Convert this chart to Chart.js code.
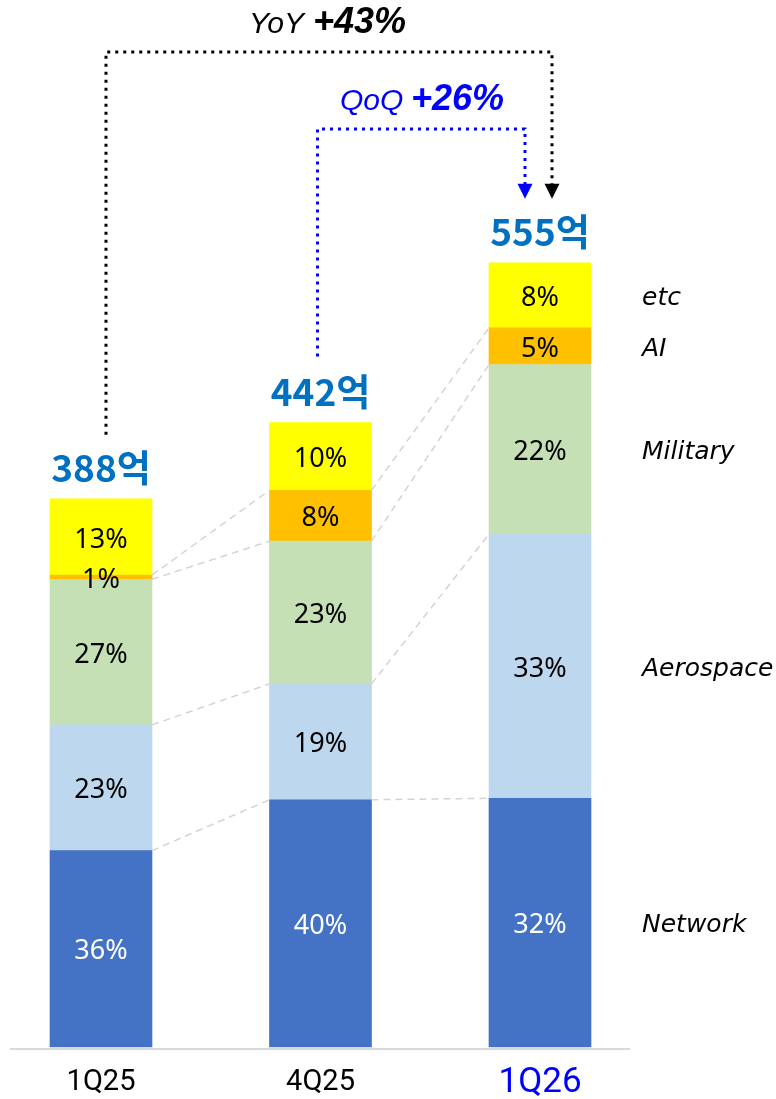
<!DOCTYPE html>
<html>
<head>
<meta charset="utf-8">
<script src="https://cdn.jsdelivr.net/npm/chart.js@4"></script>
<style>
  html, body { margin: 0; padding: 0; background: #fff; }
  canvas { display: block; }
</style>
</head>
<body>
<canvas id="chart-mix" width="776" height="1099"></canvas>
<script>
// 분기별 매출 구성 (단위: 억)
const quarters = ['1Q25', '4Q25', '1Q26']
const totals = [388, 442, 555]

const network = [139, 175, 176]
const aerospace = [89, 82, 187]
const military = [103, 101, 120]
const ai = [3, 36, 26]
const etc = [54, 48, 46]

const pctNetwork = ['36%', '40%', '32%']
const pctAerospace = ['23%', '19%', '33%']
const pctMilitary = ['27%', '23%', '22%']
const pctAi = ['1%', '8%', '5%']
const pctEtc = ['13%', '10%', '8%']

const yoyText = ['YoY', '+43%']
const qoqText = ['QoQ', '+26%']

const series = [
  { name: 'Network', data: network, pct: pctNetwork, color: '#4472c4', txt: '#ffffff' },
  { name: 'Aerospace', data: aerospace, pct: pctAerospace, color: '#bdd7ee', txt: '#000000' },
  { name: 'Military', data: military, pct: pctMilitary, color: '#c5e0b4', txt: '#000000' },
  { name: 'AI', data: ai, pct: pctAi, color: '#ffc000', txt: '#000000' },
  { name: 'etc', data: etc, pct: pctEtc, color: '#ffff00', txt: '#000000' }
]

const dotted = (ctx, color, pts) => {
  ctx.save()
  ctx.strokeStyle = color
  ctx.lineWidth = 3
  ctx.setLineDash([3, 5])
  ctx.beginPath()
  ctx.moveTo(pts[0][0], pts[0][1])
  pts.slice(1).forEach((p) => ctx.lineTo(p[0], p[1]))
  ctx.stroke()
  ctx.restore()
}

const arrowHead = (ctx, color, x, y) => {
  ctx.save()
  ctx.fillStyle = color
  ctx.beginPath()
  ctx.moveTo(x - 7.5, y - 15)
  ctx.lineTo(x + 7.5, y - 15)
  ctx.lineTo(x, y)
  ctx.closePath()
  ctx.fill()
  ctx.restore()
}

const decoPlugin = {
  id: 'deco',
  afterDatasetsDraw(chart) {
    const ctx = chart.ctx
    const xs = chart.scales.x
    const metas = series.map((s, i) => chart.getDatasetMeta(i))

    // 축 라인
    ctx.save()
    ctx.strokeStyle = '#d9d9d9'
    ctx.lineWidth = 2
    ctx.beginPath()
    ctx.moveTo(10, chart.chartArea.bottom + 2)
    ctx.lineTo(630, chart.chartArea.bottom + 2)
    ctx.stroke()
    ctx.restore()

    // 구간 연결 점선
    ctx.save()
    ctx.strokeStyle = '#d4d4d4'
    ctx.lineWidth = 1.5
    ctx.setLineDash([7, 5])
    for (let d = 0; d < 4; d++) {
      const els = metas[d].data
      for (let i = 0; i < els.length - 1; i++) {
        const a = els[i], b = els[i + 1]
        ctx.beginPath()
        ctx.moveTo(a.x + a.width / 2, a.y)
        ctx.lineTo(b.x - b.width / 2, b.y)
        ctx.stroke()
      }
    }
    ctx.restore()

    // 퍼센트 라벨
    ctx.save()
    ctx.textAlign = 'center'
    ctx.textBaseline = 'middle'
    ctx.font = '27px "Noto Sans", sans-serif'
    series.forEach((s, d) => {
      metas[d].data.forEach((el, i) => {
        ctx.fillStyle = s.txt
        ctx.fillText(s.pct[i], el.x, (el.y + el.base) / 2 + 3)
      })
    })
    ctx.restore()

    // 합계 라벨
    const topEls = metas[series.length - 1].data
    ctx.save()
    ctx.textAlign = 'center'
    ctx.textBaseline = 'middle'
    ctx.font = 'bold 37px "Noto Sans CJK KR", sans-serif'
    ctx.fillStyle = '#0070c0'
    topEls.forEach((el, i) => {
      ctx.fillText(totals[i] + '억', el.x, el.y - 31)
    })
    ctx.restore()

    // 오른쪽 범례
    const last = quarters.length - 1
    ctx.save()
    ctx.textAlign = 'left'
    ctx.textBaseline = 'middle'
    ctx.font = 'italic 25px "DejaVu Sans", sans-serif'
    ctx.fillStyle = '#000'
    series.forEach((s, d) => {
      const el = metas[d].data[last]
      ctx.fillText(s.name, 642, (el.y + el.base) / 2 + 3)
    })
    ctx.restore()

    // x축 라벨
    ctx.save()
    ctx.textAlign = 'center'
    ctx.textBaseline = 'middle'
    quarters.forEach((q, i) => {
      const x = xs.getPixelForValue(i)
      if (i === last) {
        ctx.font = '35px Roboto, sans-serif'
        ctx.fillStyle = '#0000ff'
      } else {
        ctx.font = '29px Roboto, sans-serif'
        ctx.fillStyle = '#000'
      }
      ctx.fillText(q, x, 1083)
    })
    ctx.restore()

    // YoY / QoQ 화살표
    const t0 = topEls[0], t1 = topEls[1], t2 = topEls[last]
    const yoyY = 52, qoqY = 129
    dotted(ctx, '#000', [[t0.x + 5, t0.y - 64], [t0.x + 5, yoyY], [t2.x + 12, yoyY], [t2.x + 12, t2.y - 78]])
    arrowHead(ctx, '#000', t2.x + 12, t2.y - 64)
    dotted(ctx, '#0000ff', [[t1.x - 3, t1.y - 66], [t1.x - 3, qoqY], [t2.x - 15, qoqY], [t2.x - 15, t2.y - 78]])
    arrowHead(ctx, '#0000ff', t2.x - 15, t2.y - 64)

    ctx.save()
    ctx.textBaseline = 'alphabetic'
    ctx.textAlign = 'left'
    ctx.fillStyle = '#000'
    ctx.font = 'italic 30px "Liberation Sans", sans-serif'
    ctx.fillText(yoyText[0], 249, 33)
    ctx.font = 'italic bold 36px "Liberation Sans", sans-serif'
    ctx.fillText(yoyText[1], 313, 33)
    ctx.fillStyle = '#0000ff'
    ctx.font = 'italic 30px "Liberation Sans", sans-serif'
    ctx.fillText(qoqText[0], 340, 110)
    ctx.font = 'italic bold 36px "Liberation Sans", sans-serif'
    ctx.fillText(qoqText[1], 411, 110)
    ctx.restore()
  }
}

const ctx = document.getElementById('chart-mix').getContext('2d')

const graficoMix = new Chart(ctx, {
  type: 'bar',
  data: {
    labels: quarters,
    datasets: series.map((s) => ({
      label: s.name,
      data: s.data,
      backgroundColor: s.color,
      borderWidth: 0,
      barThickness: 102,
      clip: false
    }))
  },
  options: {
    responsive: false,
    animation: false,
    devicePixelRatio: 1,
    layout: { padding: { left: 101, right: 236, top: 0, bottom: 52 } },
    plugins: { legend: { display: false }, tooltip: { enabled: false } },
    scales: {
      x: { stacked: true, offset: false, display: false },
      y: { stacked: true, display: false, min: 0, max: 741 }
    }
  },
  plugins: [decoPlugin]
})
</script>
</body>
</html>
